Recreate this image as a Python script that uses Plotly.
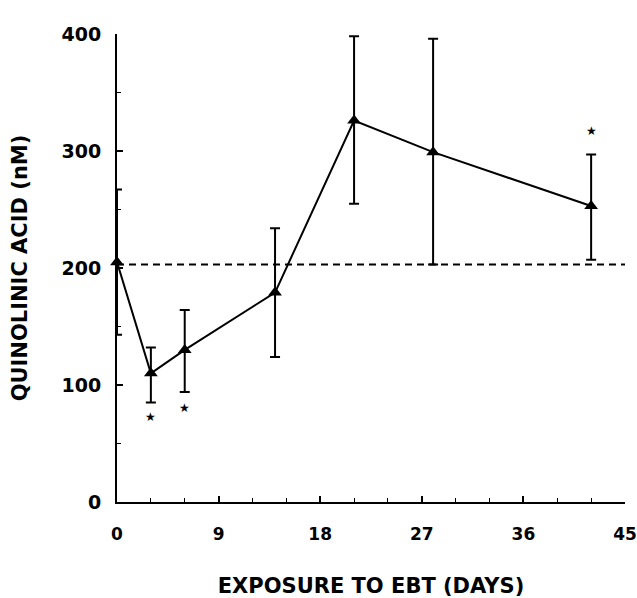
import plotly.graph_objects as go

days = [0, 3, 6, 14, 21, 28, 42]
qa = [205, 110, 130, 179, 326, 299, 253]
err_plus = [62, 22, 34, 55, 72, 97, 44]
err_minus = [62, 25, 36, 55, 71, 96, 46]

baseline_x = [0, 45]
baseline_y = [203, 203]

star_x = [3, 6, 21, 28, 42]
star_y = [73, 80, 415, 414, 317]

x_ticks = [0, 9, 18, 27, 36, 45]
y_ticks = [0, 100, 200, 300, 400]

font_family = "DejaVu Sans, Arial, sans-serif"

fig = go.Figure()

fig.add_trace(go.Scatter(
    x=baseline_x, y=baseline_y, mode="lines",
    line=dict(color="black", width=1.8, dash="7px,5px"),
    cliponaxis=False, showlegend=False, hoverinfo="skip",
))

fig.add_trace(go.Scatter(
    x=days, y=qa, mode="lines+markers",
    line=dict(color="black", width=2),
    marker=dict(symbol="triangle-up", size=12, color="black"),
    error_y=dict(type="data", symmetric=False, array=err_plus, arrayminus=err_minus,
                 color="black", thickness=2, width=5),
    cliponaxis=False, showlegend=False,
))

for sx, sy in zip(star_x, star_y):
    fig.add_annotation(
        x=sx, y=sy, xref="x", yref="y", text="★", showarrow=False,
        xanchor="center", yanchor="middle",
        font=dict(family=font_family, size=12, color="black"),
    )

axis_common = dict(
    showgrid=False, zeroline=False, showline=True, linecolor="black", linewidth=2,
    ticks="inside", tickcolor="black", tickwidth=1.5, ticklen=6, automargin=False,
    ticklabeloverflow="allow",
)

fig.update_xaxes(
    range=[0, 45], tickvals=x_ticks, ticktext=[str(v) for v in x_ticks],
    minor=dict(dtick=3, ticks="inside", ticklen=4, tickcolor="black", tickwidth=1.2),
    ticklabelstandoff=16,
    tickfont=dict(family=font_family, size=17, color="black", weight="bold"),
    title=dict(text="EXPOSURE TO EBT (DAYS)", standoff=41,
               font=dict(family=font_family, size=21, color="black", weight="bold")),
    **axis_common,
)
fig.update_yaxes(
    range=[0, 400], tickvals=y_ticks, ticktext=[str(v) for v in y_ticks],
    minor=dict(dtick=50, ticks="inside", ticklen=4, tickcolor="black", tickwidth=1.2),
    ticklabelstandoff=10,
    tickfont=dict(family=font_family, size=19, color="black", weight="bold"),
    title=dict(text="QUINOLINIC ACID (nM)", standoff=28,
               font=dict(family=font_family, size=21, color="black", weight="bold")),
    **axis_common,
)

fig.update_layout(
    width=637, height=598,
    margin=dict(l=117, r=12, t=34, b=96),
    paper_bgcolor="white", plot_bgcolor="white",
    showlegend=False,
)

# remove the default 8px page margin so the figure fills the window exactly
fig.write_html(
    "out.html",
    config={"displayModeBar": False},
    post_script="document.body.style.margin='0';document.body.style.overflow='hidden';",
)
